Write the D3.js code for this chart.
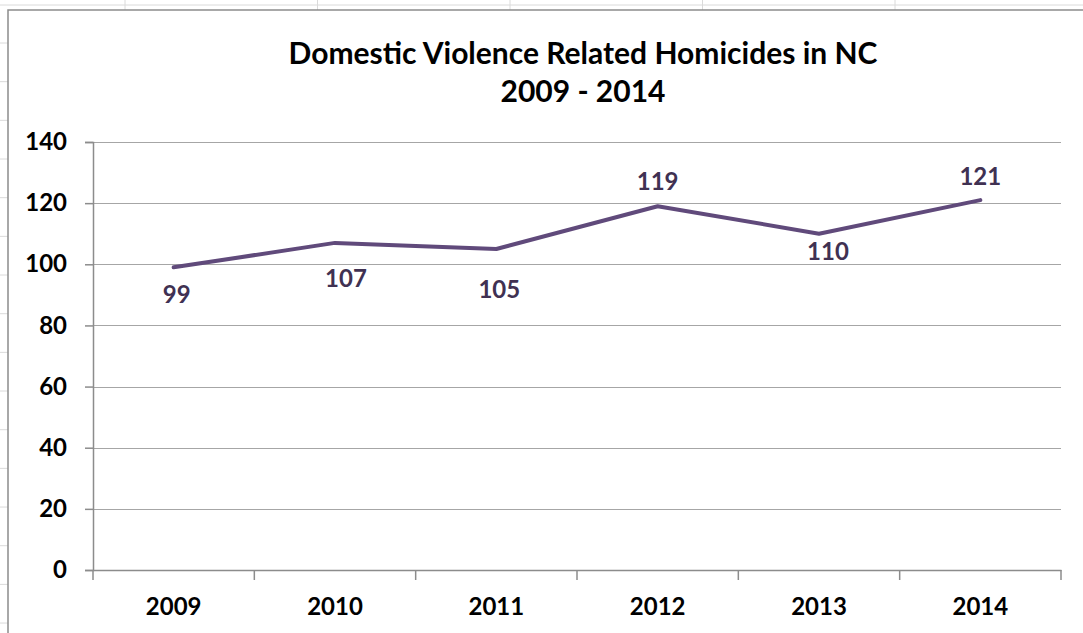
<!DOCTYPE html>
<html>
<head>
<meta charset="utf-8">
<script src="https://cdn.jsdelivr.net/npm/d3@7"></script>
<style>
  html, body { margin: 0; padding: 0; background: #fff; }
  svg { display: block; }
  text { font-family: Lato, "Open Sans", sans-serif; font-weight: bold; }
</style>
</head>
<body>
<svg id="chart" width="1083" height="633"></svg>
<script>
// ---- data ----
const years = ["2009", "2010", "2011", "2012", "2013", "2014"];
const homicides = [99, 107, 105, 119, 110, 121];
const yTicks = [0, 20, 40, 60, 80, 100, 120, 140];
const titleLines = ["Domestic Violence Related Homicides in NC", "2009 - 2014"];

// label placement (annotation layout, not data)
const labelNudge = [[3, 36], [11, 44], [3, 49], [0, -16], [9, 26], [0, -15]];

(function () {
const W = 1083, H = 633;
const svg = d3.select("#chart");

// spreadsheet background grid
const bg = svg.append("g").attr("stroke", "#dadada").attr("stroke-width", 1);
bg.append("line").attr("x1", 0).attr("x2", W).attr("y1", 5).attr("y2", 5);
d3.range(5).forEach(i => {
  const xx = 125 + i * 192.5;
  bg.append("line").attr("x1", xx).attr("x2", xx).attr("y1", 0).attr("y2", 10);
});
d3.range(16).forEach(i => {
  const yy = 43 + i * 38.67;
  bg.append("line").attr("x1", 0).attr("x2", 8).attr("y1", yy).attr("y2", yy);
});

// chart area
svg.append("rect").attr("x", 8).attr("y", 10).attr("width", W).attr("height", H)
  .attr("fill", "#fff").attr("stroke", "#8c8c8c").attr("stroke-width", 1.5);

const pLeft = 93, pRight = 1061, pTop = 142, pBottom = 570;
const x = d3.scaleBand().domain(years).range([pLeft, pRight]).paddingInner(0).paddingOuter(0);
const y = d3.scaleLinear().domain([0, 140]).range([pBottom, pTop]);

// gridlines
svg.append("g").selectAll("line").data(yTicks.filter(d => d > 0)).join("line")
  .attr("x1", pLeft).attr("x2", pRight)
  .attr("y1", d => Math.round(y(d)) + 0.5).attr("y2", d => Math.round(y(d)) + 0.5)
  .attr("stroke", "#a6a6a6").attr("stroke-width", 1.2);

// y axis
const yAxis = svg.append("g").attr("transform", `translate(${pLeft},0)`)
  .call(d3.axisLeft(y).tickValues(yTicks).tickSize(8).tickPadding(18));
yAxis.select(".domain").attr("stroke", "#8c8c8c").attr("stroke-width", 1.5);
yAxis.selectAll(".tick line").attr("stroke", "#8c8c8c").attr("stroke-width", 1.5);
yAxis.selectAll(".tick text").attr("font-size", 24).attr("fill", "#000")
  .attr("font-family", "Lato, 'Open Sans', sans-serif").attr("font-weight", "bold");

// x axis
const xAxis = svg.append("g").attr("transform", `translate(0,${pBottom})`)
  .call(d3.axisBottom(x).tickSize(0).tickPadding(28));
xAxis.select(".domain").attr("stroke", "#8c8c8c").attr("stroke-width", 1.5);
xAxis.selectAll(".tick text").attr("font-size", 24).attr("fill", "#000")
  .attr("font-family", "Lato, 'Open Sans', sans-serif").attr("font-weight", "bold");
const bounds = years.map(d => x(d)).concat([x.range()[1]]);
svg.append("g").selectAll("line").data(bounds).join("line")
  .attr("x1", d => d).attr("x2", d => d)
  .attr("y1", pBottom).attr("y2", pBottom + 10)
  .attr("stroke", "#8c8c8c").attr("stroke-width", 1.5);

// line
const pts = years.map((d, i) => ({ year: d, v: homicides[i], i }));
const line = d3.line().x(d => x(d.year) + x.bandwidth() / 2).y(d => y(d.v));
svg.append("path").datum(pts).attr("d", line)
  .attr("fill", "none").attr("stroke", "#604a7b").attr("stroke-width", 4)
  .attr("stroke-linejoin", "round").attr("stroke-linecap", "round");

// data labels
svg.append("g").selectAll("text").data(pts).join("text")
  .attr("x", d => x(d.year) + x.bandwidth() / 2 + labelNudge[d.i][0])
  .attr("y", d => y(d.v) + labelNudge[d.i][1])
  .attr("text-anchor", "middle").attr("font-size", 24).attr("fill", "#403152")
  .text(d => d.v);

// title
svg.append("g").selectAll("text").data(titleLines).join("text")
  .attr("x", 583).attr("y", (d, i) => 64 + i * 38)
  .attr("text-anchor", "middle").attr("font-size", 30).attr("fill", "#000")
  .text(d => d);
})();
</script>
</body>
</html>
